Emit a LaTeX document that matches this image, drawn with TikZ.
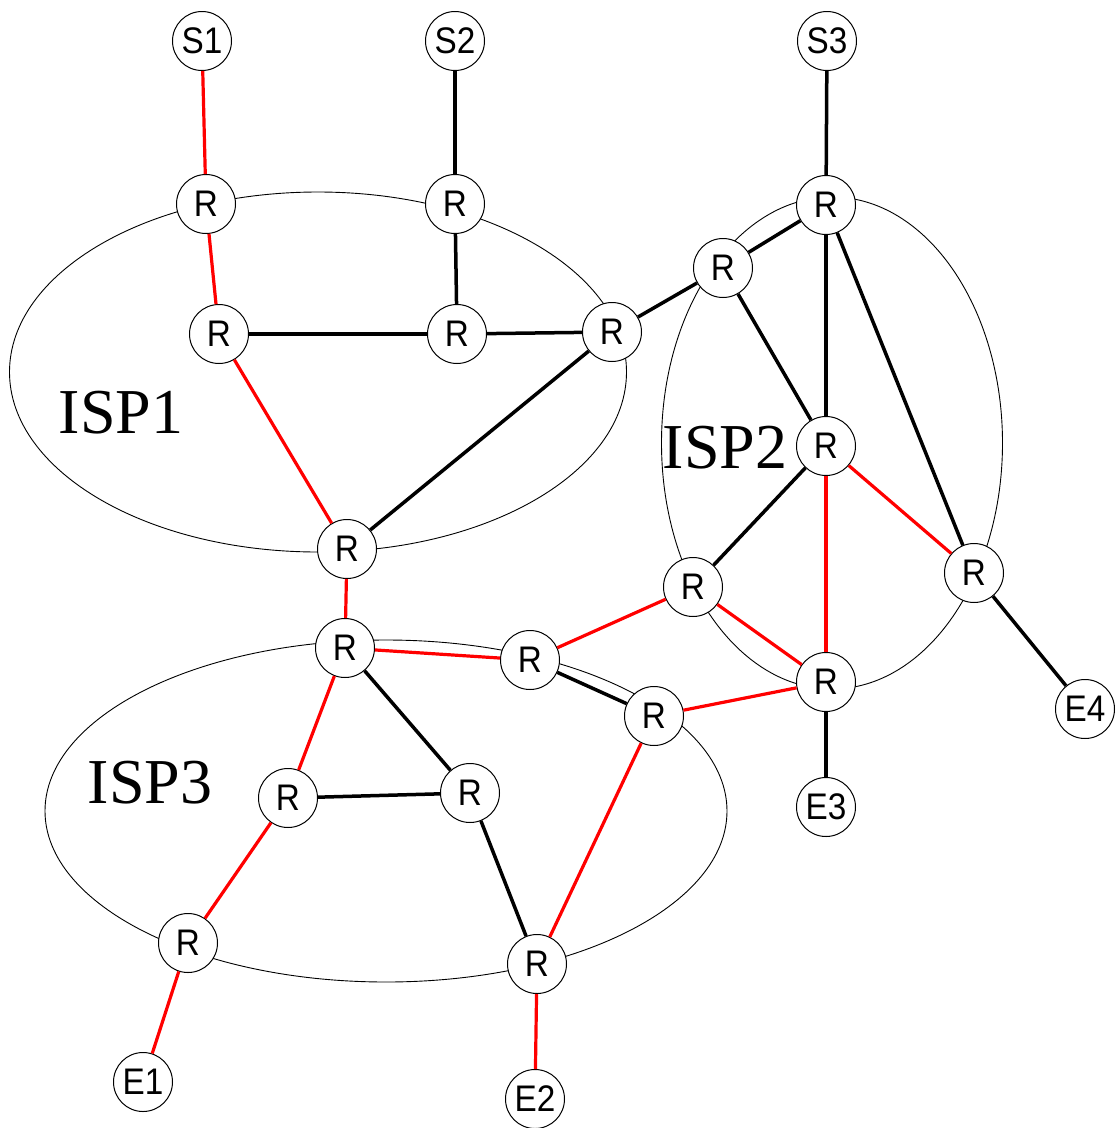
\documentclass[tikz,border=0pt]{standalone}
\usepackage{fontspec}
\newfontfamily\labfont[FakeStretch=0.9]{Liberation Sans}
\newfontfamily\ispfont{Liberation Serif}
\begin{document}
\begin{tikzpicture}[x=1pt,y=-1pt,
  rt/.style={circle,draw,line width=1pt,fill=white,minimum size=59pt,inner sep=0pt,
    font=\labfont\fontsize{37}{37}\selectfont},
  blk/.style={line width=3.5pt,black},
  redl/.style={line width=3.2pt,red},
  isp/.style={line width=0.9pt},
  isplab/.style={anchor=base,inner sep=0pt,font=\ispfont\fontsize{64}{64}\selectfont}]
\useasboundingbox (0,0) rectangle (1117,1128);
% ISP regions
\draw[isp] (318,372) ellipse [x radius=308.5, y radius=180];
\draw[isp] (832,443) ellipse [x radius=170.5, y radius=246];
\draw[isp] (386,811) ellipse [x radius=341, y radius=171];
\node[isplab] (l1) at (121,433) {ISP1};
\node[isplab] (l2) at (725,468) {ISP2};
\node[isplab] (l3) at (150,803) {ISP3};
% sources
\node[rt] (s1) at (202,41) {S1};
\node[rt] (s2) at (455,41) {S2};
\node[rt] (s3) at (827,41) {S3};
% ISP1
\node[rt] (r1) at (206,204) {R};
\node[rt] (r2) at (455,204) {R};
\node[rt] (r3) at (219,334) {R};
\node[rt] (r4) at (457,334) {R};
\node[rt] (r5) at (612,332) {R};
\node[rt] (r6) at (347,549) {R};
% ISP2
\node[rt] (r7) at (826,205) {R};
\node[rt] (r8) at (723,268) {R};
\node[rt] (r9) at (826,446) {R};
\node[rt] (r10) at (693,587) {R};
\node[rt] (r11) at (974,573) {R};
\node[rt] (r12) at (826,682) {R};
% ISP3
\node[rt] (r13) at (345,648) {R};
\node[rt] (r14) at (530,660) {R};
\node[rt] (r15) at (654,716) {R};
\node[rt] (r16) at (288,798) {R};
\node[rt] (r17) at (470,793) {R};
\node[rt] (r18) at (188,943) {R};
\node[rt] (r19) at (537,964) {R};
% ends
\node[rt] (e1) at (143,1082) {E1};
\node[rt] (e2) at (535,1099) {E2};
\node[rt] (e3) at (826,807) {E3};
\node[rt] (e4) at (1085,709) {E4};
% black links
\draw[blk] (s2) -- (r2);
\draw[blk] (r2) -- (r4);
\draw[blk] (r3) -- (r4);
\draw[blk] (r4) -- (r5);
\draw[blk] (r5) -- (r6);
\draw[blk] (r5) -- (r8);
\draw[blk] (r8) -- (r7);
\draw[blk] (s3) -- (r7);
\draw[blk] (r7) -- (r9);
\draw[blk] (r7) -- (r11);
\draw[blk] (r8) -- (r9);
\draw[blk] (r9) -- (r10);
\draw[blk] (r11) -- (e4);
\draw[blk] (r12) -- (e3);
\draw[blk] (r13) -- (r17);
\draw[blk] (r16) -- (r17);
\draw[blk] (r17) -- (r19);
\draw[blk] (r14) -- (r15);
% red path links
\draw[redl] (s1) -- (r1);
\draw[redl] (r1) -- (r3);
\draw[redl] (r3) -- (r6);
\draw[redl] (r6) -- (r13);
\draw[redl] (r13) -- (r14);
\draw[redl] (r14) -- (r10);
\draw[redl] (r10) -- (r12);
\draw[redl] (r9) -- (r12);
\draw[redl] (r9) -- (r11);
\draw[redl] (r15) -- (r12);
\draw[redl] (r13) -- (r16);
\draw[redl] (r16) -- (r18);
\draw[redl] (r18) -- (e1);
\draw[redl] (r15) -- (r19);
\draw[redl] (r19) -- (e2);
\end{tikzpicture}
\end{document}
